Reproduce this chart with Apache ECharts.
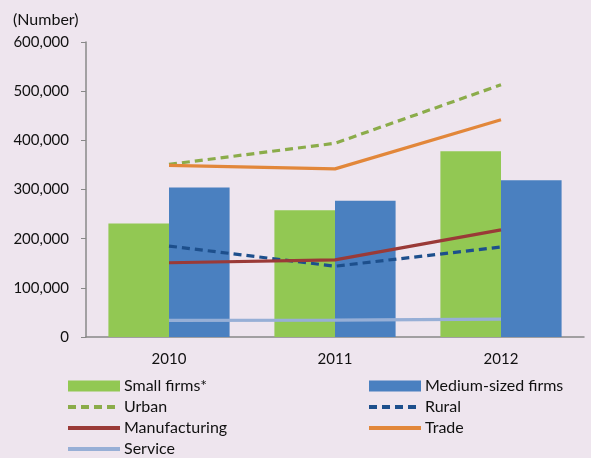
<!DOCTYPE html>
<html>
<head>
<meta charset="utf-8">
<script src="https://cdn.jsdelivr.net/npm/echarts@6/dist/echarts.min.js"></script>
<style>
html,body{margin:0;padding:0;background:#eee5ee;}
#c{width:591px;height:458px;}
</style>
</head>
<body>
<div id="c"></div>
<script>
var categories = ['2010', '2011', '2012'];
var yTicks = [0, 100000, 200000, 300000, 400000, 500000, 600000];
var smallFirms = [231000, 258000, 378000];
var mediumFirms = [304000, 277000, 319000];
var urban = [351000, 394000, 513000];
var rural = [185000, 144000, 183000];
var manufacturing = [151000, 157000, 218000];
var trade = [349000, 342000, 442000];
var service = [34000, 34500, 36500];

var FONT = 'Lato';
var chart = echarts.init(document.getElementById('c'), null, {renderer: 'canvas'});
function lineS(name, data, color, dashed) {
  return {
    name: name, type: 'line', data: data, symbol: 'none',
    lineStyle: {color: color, width: 3.2, type: dashed ? [8, 5] : 'solid'},
    itemStyle: {color: color}, z: 3
  };
}
var hideSym = {opacity: 0};
var legendText = {fontSize: 16, color: '#111', fontFamily: FONT, lineHeight: 15, padding: [0, 0, 0, -1]};
var legendLine = {width: 4};
chart.setOption({
  backgroundColor: '#eee5ee',
  animation: false,
  textStyle: {fontFamily: FONT},
  title: {text: '(Number)', left: 8, top: 7,
    textStyle: {fontFamily: FONT, fontSize: 16, fontWeight: 'normal', color: '#111'}},
  grid: {left: 86, right: 7, top: 42, bottom: 121},
  xAxis: {
    type: 'category', data: categories,
    axisLine: {lineStyle: {color: '#888', width: 1.5}},
    axisTick: {show: false},
    axisLabel: {color: '#111', fontSize: 15, margin: 15, fontFamily: FONT}
  },
  yAxis: {
    type: 'value', min: yTicks[0], max: yTicks[yTicks.length - 1], interval: yTicks[1] - yTicks[0],
    axisLine: {show: true, lineStyle: {color: '#888', width: 1.5}},
    axisTick: {show: true, length: 5, lineStyle: {color: '#888'}},
    splitLine: {show: false},
    axisLabel: {color: '#111', fontSize: 15, margin: 17, fontFamily: FONT,
      formatter: function (v) { return v.toLocaleString('en-US'); }}
  },
  legend: [{
    orient: 'vertical', left: 61, top: 373, height: 90, itemWidth: 52, itemHeight: 11, itemGap: 5,
    textStyle: legendText, lineStyle: legendLine,
    data: [
      {name: 'Small firms*', icon: 'rect'},
      {name: 'Urban', itemStyle: hideSym},
      {name: 'Manufacturing', itemStyle: hideSym},
      {name: 'Service', itemStyle: hideSym}
    ]
  }, {
    orient: 'vertical', left: 362, top: 373, height: 90, itemWidth: 52, itemHeight: 11, itemGap: 5,
    textStyle: legendText, lineStyle: legendLine,
    data: [
      {name: 'Medium-sized firms', icon: 'rect'},
      {name: 'Rural', itemStyle: hideSym},
      {name: 'Trade', itemStyle: hideSym}
    ]
  }],
  series: [
    {name: 'Small firms*', type: 'bar', data: smallFirms, barGap: '0%', barCategoryGap: '27%',
      itemStyle: {color: '#92c853'}},
    {name: 'Medium-sized firms', type: 'bar', data: mediumFirms,
      itemStyle: {color: '#4a80c0'}},
    lineS('Urban', urban, '#8bac4a', true),
    lineS('Rural', rural, '#1d4f8c', true),
    lineS('Manufacturing', manufacturing, '#9a3a37', false),
    lineS('Trade', trade, '#e2873a', false),
    lineS('Service', service, '#97afd6', false)
  ]
});
</script>
</body>
</html>
